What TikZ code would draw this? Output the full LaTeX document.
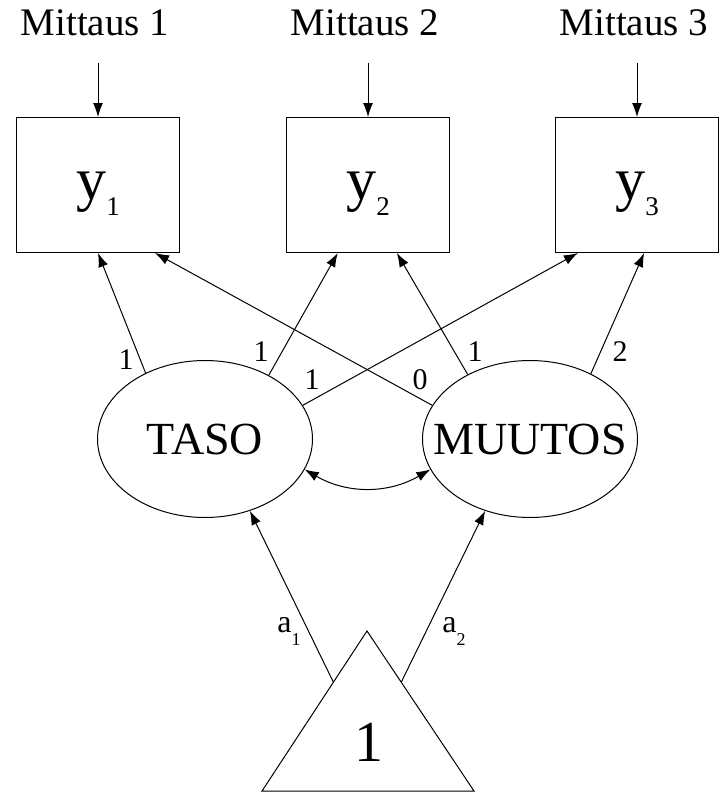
\documentclass[tikz,border=0pt]{standalone}
\usepackage{fontspec}
\setmainfont{Liberation Serif}
\usetikzlibrary{shapes.geometric,arrows.meta,calc}

\tikzset{
  obs/.style={draw, rectangle, minimum width=163pt, minimum height=135pt, inner sep=0pt},
  lat/.style={draw, ellipse, minimum width=215pt, minimum height=157pt, inner sep=0pt,
    font=\fontsize{46}{46}\selectfont},
  lbl/.style={font=\fontsize{30}{30}\selectfont, inner sep=0pt},
  arr/.style={-{Latex[length=14pt,width=10pt]}},
  cov/.style={{Latex[length=14pt,width=10pt]}-{Latex[length=14pt,width=10pt]}}
}

\begin{document}
\begin{tikzpicture}[x=1pt, y=-1pt, line width=1pt]
          \useasboundingbox (0,0) rectangle (720,793);

          %%    % mittaukset
          \foreach \i/\x in {1/98,2/368,3/637} {
            \node[obs] (y\i) at (\x,185)
              {\raisebox{-14pt}[0pt][0pt]{\fontsize{60}{60}\selectfont y\raisebox{-16pt}{\fontsize{27}{27}\selectfont \i}}};
            \node[font=\fontsize{39}{39}\selectfont, inner sep=0pt] (m\i) at (\x-3,23) {Mittaus \i};
            \coordinate (e\i) at (\x,63);
            \draw[arr] (e\i) -- (y\i);
          }

          %%    % faktorit
          \node[lat] (taso) at (205,439) {\makebox[0pt]{TASO}};
          \node[lat] (muutos) at (530,439) {\makebox[0pt]{MUUTOS}};

          \draw[arr] (taso.132) -- (y1.south);
          \draw[arr] (taso.45) -- (y2.-114);
          \draw[arr] (taso.19) -- (y3.-131);
          \draw[arr] (muutos.161) -- (y1.-50);
          \draw[arr] (muutos.134) -- (y2.-67);
          \draw[arr] (muutos.47) -- (y3.-84);
          \draw[cov] (taso.-17) to[bend right=30] (muutos.-163);

          \node[lbl] (l1) at (126,360) {1};
          \node[lbl] (l2) at (261,352) {1};
          \node[lbl] (l3) at (312,380) {1};
          \node[lbl] (l4) at (420,380) {0};
          \node[lbl] (l5) at (475,352) {1};
          \node[lbl] (l6) at (620,352) {2};

          %%    % vakio
          \coordinate (apex) at (367,631);
          \coordinate (bl) at (262,791);
          \coordinate (br) at (474,791);
          \draw (apex) -- (bl) -- (br) -- cycle;
          \node[font=\fontsize{58}{58}\selectfont, inner sep=0pt] (one) at (369,742) {1};
          \coordinate (t1) at ($(apex)!.32!(bl)$);
          \coordinate (t2) at ($(apex)!.32!(br)$);
          \draw[arr] (t1) -- (taso.-58);
          \draw[arr] (t2) -- (muutos.-122);

          \foreach \i/\x in {1/289,2/454} {
            \node[font=\fontsize{32}{32}\selectfont, inner sep=0pt] (a\i) at (\x,631)
              {a\raisebox{-13pt}{\fontsize{18}{18}\selectfont \i}};
          }
\end{tikzpicture}
\end{document}
